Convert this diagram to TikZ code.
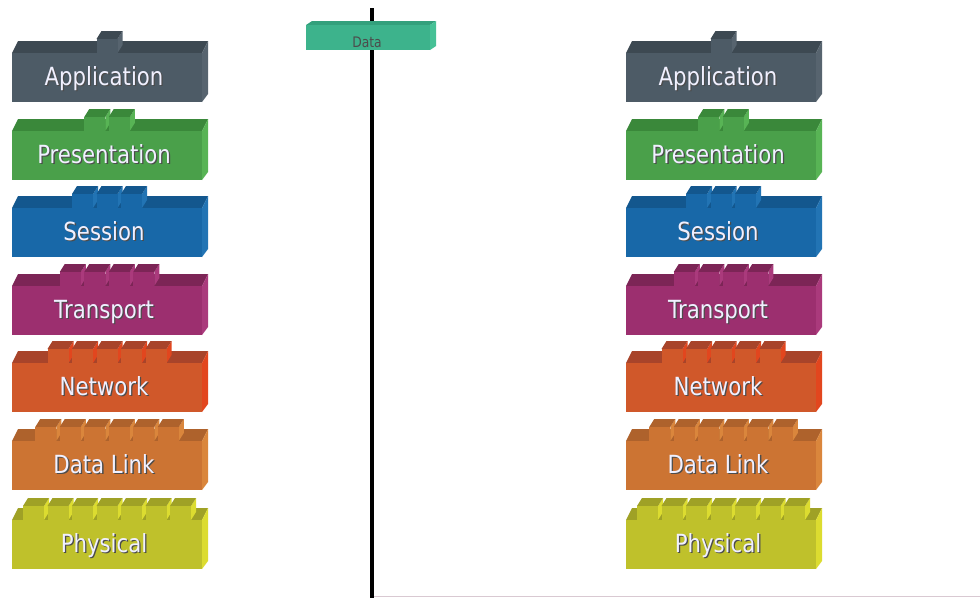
\documentclass[tikz,border=0pt]{standalone}
\usepackage{fontspec}
\newfontfamily\labfont[FakeStretch=0.85]{DejaVu Sans}
\definecolor{appF}{HTML}{4D5B66}\definecolor{appT}{HTML}{3D4952}\definecolor{appS}{HTML}{57646F}
\definecolor{preF}{HTML}{4AA04A}\definecolor{preT}{HTML}{3A883A}\definecolor{preS}{HTML}{58B455}
\definecolor{sesF}{HTML}{1868A8}\definecolor{sesT}{HTML}{13578E}\definecolor{sesS}{HTML}{2274B4}
\definecolor{traF}{HTML}{9C2F6F}\definecolor{traT}{HTML}{7C2556}\definecolor{traS}{HTML}{AA3A7C}
\definecolor{netF}{HTML}{D0582A}\definecolor{netT}{HTML}{A8442A}\definecolor{netS}{HTML}{E2461E}
\definecolor{dlkF}{HTML}{CC7433}\definecolor{dlkT}{HTML}{AE622C}\definecolor{dlkS}{HTML}{DA863C}
\definecolor{phyF}{HTML}{BFC12B}\definecolor{phyT}{HTML}{9FA126}\definecolor{phyS}{HTML}{DCDC30}
\definecolor{datF}{HTML}{3DB38C}\definecolor{datT}{HTML}{33A07C}\definecolor{datS}{HTML}{46C196}
\definecolor{hlinecol}{HTML}{D9C9D2}
\tikzset{
  lab/.style={inner sep=0pt,font=\labfont\fontsize{25}{25}\selectfont,text=white!94!blue},
  labshadow/.style={lab,text=black!70},
  datlab/.style={inner sep=0pt,font=\labfont\fontsize{14.5}{14.5}\selectfont,text=black!70},
}
\newcommand\osilayer[8]{%
 \begin{scope}[shift={(#2,#3)}]
  \fill[#6] (0,-24) -- (6,-36) -- (196,-36) -- (190,-24) -- cycle;
  \pgfmathsetmacro\tabspan{#4*24.5-3.5}
  \pgfmathsetmacro\tabstart{95-\tabspan/2}
  \foreach \k in {1,...,#4}{%
    \pgfmathsetmacro\tx{\tabstart+(\k-1)*24.5}
    \fill[#7] (\tx+21,-24) -- (\tx+21,-38) -- (\tx+26,-46) -- (\tx+26,-32) -- cycle;
    \fill[#6] (\tx,-38) -- (\tx+5,-46) -- (\tx+26,-46) -- (\tx+21,-38) -- cycle;
    \fill[#5] (\tx,-38) rectangle (\tx+21,-23);}
  \fill[#5] (0,-24) rectangle (190,25);
  \fill[#7] (190,-24) -- (196,-36) -- (196,17) -- (190,25) -- cycle;
  \node[labshadow,anchor=base] (#1s) at (93.3,9.8) {#8};
  \node[lab,anchor=base] (#1) at (92,8.5) {#8};
 \end{scope}}
\begin{document}
\begin{tikzpicture}[x=1pt,y=-1pt]
\fill[white] (0,0) rectangle (980,598);
\useasboundingbox (0,0) rectangle (980,598);
% axis lines
\coordinate (vtop) at (372,8);
\coordinate (vbot) at (372,598);
\coordinate (hend) at (980,596.5);
\draw[hlinecol,line width=1.5pt] (vbot |- hend) -- (hend);
\draw[black,line width=3.5pt] (vtop) -- (vbot);
% data packet
\fill[datT] (306,25) -- (312,21) -- (436,21) -- (430,25) -- cycle;
\fill[datF] (306,25) rectangle (430,50);
\fill[datS] (430,25) -- (436,21) -- (436,46) -- (430,50) -- cycle;
\node[datlab,anchor=base] (data) at (367,47) {Data};
% left stack
\osilayer{lapp}{12}{77}{1}{appF}{appT}{appS}{Application}
\osilayer{lpre}{12}{155}{2}{preF}{preT}{preS}{Presentation}
\osilayer{lses}{12}{232}{3}{sesF}{sesT}{sesS}{Session}
\osilayer{ltra}{12}{310}{4}{traF}{traT}{traS}{Transport}
\osilayer{lnet}{12}{387}{5}{netF}{netT}{netS}{Network}
\osilayer{ldlk}{12}{465}{6}{dlkF}{dlkT}{dlkS}{Data Link}
\osilayer{lphy}{12}{544}{7}{phyF}{phyT}{phyS}{Physical}
% right stack
\osilayer{rapp}{626}{77}{1}{appF}{appT}{appS}{Application}
\osilayer{rpre}{626}{155}{2}{preF}{preT}{preS}{Presentation}
\osilayer{rses}{626}{232}{3}{sesF}{sesT}{sesS}{Session}
\osilayer{rtra}{626}{310}{4}{traF}{traT}{traS}{Transport}
\osilayer{rnet}{626}{387}{5}{netF}{netT}{netS}{Network}
\osilayer{rdlk}{626}{465}{6}{dlkF}{dlkT}{dlkS}{Data Link}
\osilayer{rphy}{626}{544}{7}{phyF}{phyT}{phyS}{Physical}
\end{tikzpicture}
\end{document}
